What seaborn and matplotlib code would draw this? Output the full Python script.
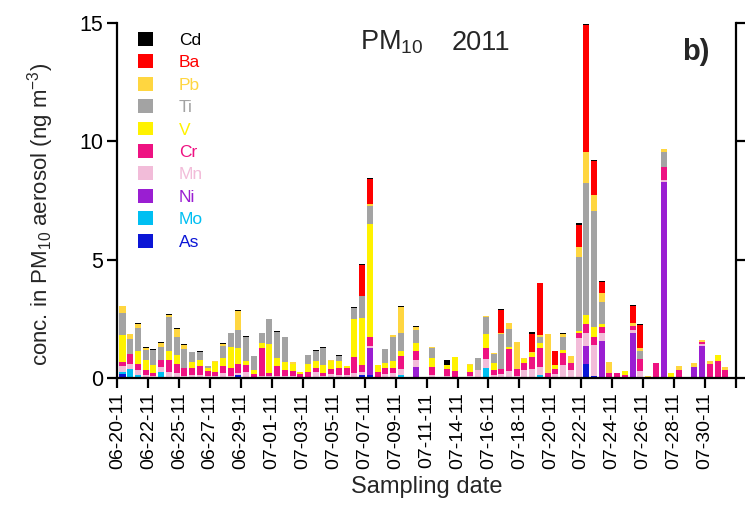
import numpy as np
import pandas as pd
import matplotlib
matplotlib.use("Agg")
import matplotlib.pyplot as plt
import seaborn as sns
from matplotlib.patches import Patch

# Trace-element concentrations per PM10 sample (ng m^-3), stacked bottom -> top
As = [0.15, 0.04, 0, 0, 0, 0, 0, 0, 0, 0,
      0, 0, 0, 0, 0, 0.12, 0, 0, 0, 0,
      0, 0, 0, 0, 0, 0, 0, 0, 0, 0,
      0, 0.11, 0.11, 0, 0, 0, 0, 0, 0.03, 0,
      0, 0, 0, 0, 0, 0, 0, 0, 0, 0,
      0, 0, 0, 0, 0, 0, 0, 0, 0, 0,
      0.59, 0.10, 0, 0, 0, 0, 0, 0, 0, 0,
      0, 0, 0, 0, 0, 0, 0, 0, 0]
Mo = [0.10, 0.35, 0.12, 0, 0, 0.27, 0, 0, 0, 0,
      0, 0, 0, 0, 0, 0, 0, 0, 0, 0,
      0, 0, 0, 0, 0, 0, 0, 0, 0, 0,
      0, 0, 0, 0, 0, 0, 0.13, 0, 0, 0,
      0, 0, 0, 0, 0, 0, 0, 0.41, 0, 0,
      0, 0, 0, 0, 0.14, 0, 0, 0, 0, 0,
      0, 0, 0, 0, 0, 0, 0, 0, 0, 0,
      0, 0, 0, 0, 0, 0, 0, 0, 0]
Ni = [0, 0, 0, 0, 0, 0, 0, 0, 0, 0,
      0, 0, 0, 0, 0, 0, 0, 0, 0, 0,
      0, 0, 0, 0, 0, 0, 0, 0, 0, 0,
      0, 0, 1.14, 0, 0, 0, 0, 0, 0.45, 0,
      0, 0, 0, 0, 0, 0, 0, 0, 0, 0,
      0, 0, 0, 0, 0, 0, 0, 0, 0, 0,
      0.76, 0, 1.58, 0, 0, 0, 1.89, 0, 0, 0,
      8.30, 0, 0, 0, 0.48, 1.35, 0, 0, 0]
Mn = [0.24, 0.20, 0.20, 0.12, 0.08, 0.18, 0.27, 0.20, 0.10, 0.12,
      0.11, 0.07, 0.08, 0.20, 0.10, 0.10, 0.27, 0.05, 0.08, 0.08,
      0.10, 0.10, 0.08, 0, 0.06, 0.27, 0.10, 0.15, 0.13, 0.13,
      0.20, 0.15, 0.10, 0.05, 0.15, 0.20, 0.24, 0, 0.27, 0,
      0.13, 0, 0.08, 0, 0, 0.10, 0.33, 0.38, 0.13, 0.17,
      0.31, 0.10, 0.33, 0.39, 0.34, 0.03, 0.15, 0.55, 0.34, 1.68,
      0.56, 1.30, 0.31, 0.04, 0, 0, 0.14, 0.31, 0, 0.06,
      0.07, 0, 0, 0, 0, 0.07, 0, 0, 0]
Cr = [0.18, 0.42, 0.28, 0.20, 0.14, 0.31, 0.49, 0.38, 0.32, 0.30,
      0.39, 0.23, 0.18, 0.31, 0.34, 0.39, 0.28, 0.10, 1.17, 0.14,
      0.41, 0.24, 0.20, 0.16, 0.21, 0.17, 0.10, 0.22, 0.28, 0.31,
      0.70, 0.28, 0.39, 0.22, 0.28, 0.24, 0.54, 0, 0.38, 0,
      0.32, 0, 0.28, 0.30, 0, 0.15, 0, 0.46, 0.22, 0.19,
      0.90, 0.28, 0.30, 0.48, 0.79, 0.20, 0.22, 0.52, 0.30, 0.21,
      0.39, 0.32, 0.28, 0.18, 0.20, 0.13, 0.17, 0.51, 0, 0.56,
      0.54, 0, 0.34, 0, 0, 0.11, 0.59, 0.72, 0.34]
V = [1.13, 0, 0.56, 0.46, 0.32, 0, 0.39, 0.39, 0, 0.27,
     0.25, 0.14, 0.40, 0.35, 0.85, 0.66, 0.17, 0.20, 0.21, 1.20,
     0.32, 0.35, 0.33, 0.10, 0.32, 0.28, 0.36, 0.34, 0.31, 0.08,
     1.59, 2.00, 4.76, 0.27, 0.20, 0.28, 0.21, 0, 0.35, 0,
     0.38, 0, 0.18, 0.58, 0, 0.30, 0, 0.61, 0.28, 0,
     0.11, 0, 0.18, 0.20, 0.23, 0, 0.18, 0.11, 0, 0.10,
     0.35, 0.45, 0.11, 0, 0, 0.17, 0, 0, 0, 0,
     0, 0.22, 0, 0, 0, 0, 0, 0.25, 0]
Ti = [0.96, 0.63, 0.96, 0.41, 0.63, 0.54, 1.44, 0.77, 0.82, 0.42,
      0.34, 0.06, 0, 0.51, 0.60, 0.75, 1.03, 0.56, 0.45, 1.06,
      1.10, 1.06, 0, 0, 0.38, 0.42, 0.70, 0, 0.23, 0,
      0.47, 0.92, 0.77, 0, 0.58, 1.03, 0.77, 0, 0.54, 0,
      0.44, 0, 0, 0, 0, 0, 0.50, 0.70, 0.39, 1.50,
      0.73, 0, 0, 0, 0.25, 0, 0, 0.56, 0, 3.14,
      5.59, 4.90, 0.92, 0, 0, 0, 0, 0.30, 0, 0,
      0.66, 0, 0, 0, 0, 0, 0, 0, 0]
Pb = [0.28, 0.21, 0.17, 0.08, 0, 0.20, 0.07, 0.32, 0.17, 0,
      0, 0, 0.06, 0.06, 0, 0.80, 0, 0, 0, 0,
      0, 0, 0.07, 0, 0, 0, 0, 0.07, 0, 0,
      0, 0, 0.07, 0, 0, 0.05, 1.13, 0, 0.12, 0,
      0.06, 0, 0, 0, 0, 0.04, 0, 0.06, 0.05, 0.06,
      0.28, 1.14, 0.05, 0.04, 0.07, 1.63, 0, 0.10, 0.28, 0.39,
      1.31, 0.66, 0.38, 0.47, 0, 0, 0.11, 0.14, 0.08, 0,
      0.10, 0, 0.17, 0, 0.15, 0.07, 0.13, 0, 0.11]
Ba = [0, 0, 0, 0, 0, 0, 0, 0, 0, 0,
      0, 0, 0, 0, 0, 0, 0, 0, 0, 0,
      0, 0, 0, 0, 0, 0, 0, 0, 0, 0,
      0, 1.31, 1.08, 0, 0, 0, 0, 0, 0, 0,
      0, 0, 0, 0, 0, 0, 0, 0, 0, 0.96,
      0, 0, 0, 0.77, 2.18, 0, 0.59, 0, 0, 0.94,
      5.38, 1.44, 0.49, 0, 0, 0, 0.73, 0.99, 0, 0,
      0, 0, 0, 0, 0, 0, 0, 0, 0]
Cd = [0.02, 0.03, 0.05, 0.04, 0.04, 0.04, 0.04, 0.06, 0.04, 0,
      0.04, 0.02, 0, 0.03, 0, 0.04, 0.04, 0, 0, 0,
      0.04, 0, 0, 0, 0, 0.03, 0.04, 0, 0.02, 0,
      0.04, 0.03, 0.04, 0, 0, 0.03, 0.04, 0, 0.06, 0,
      0, 0, 0.21, 0, 0, 0, 0, 0, 0, 0.03,
      0, 0, 0, 0.06, 0, 0, 0, 0.05, 0, 0.07,
      0.04, 0.04, 0.04, 0, 0, 0, 0.04, 0.03, 0, 0,
      0, 0, 0, 0, 0, 0, 0, 0, 0]

# Every fourth sample is labelled on the date axis
date_labels = ["06-20-11", "06-22-11", "06-25-11", "06-27-11", "06-29-11",
               "07-01-11", "07-03-11", "07-05-11", "07-07-11", "07-09-11",
               "07-11-11", "07-14-11", "07-16-11", "07-18-11", "07-20-11",
               "07-22-11", "07-24-11", "07-26-11", "07-28-11", "07-30-11"]

elements = ["As", "Mo", "Ni", "Mn", "Cr", "V", "Ti", "Pb", "Ba", "Cd"]  # bottom -> top
series = {"As": As, "Mo": Mo, "Ni": Ni, "Mn": Mn, "Cr": Cr,
          "V": V, "Ti": Ti, "Pb": Pb, "Ba": Ba, "Cd": Cd}
colors = {"As": "#0b16d6", "Mo": "#00bff2", "Ni": "#9a1ed2", "Mn": "#f2bcd9",
          "Cr": "#ee1282", "V": "#fff200", "Ti": "#a3a3a3", "Pb": "#ffd640",
          "Ba": "#ff0000", "Cd": "#000000"}
legend_order = elements[::-1]  # top of stack first

n = len(As)
pos = np.arange(n) + 0.65
long_df = pd.DataFrame({
    "pos": np.tile(pos, len(elements)),
    "element": np.repeat(elements, n),
    "value": np.concatenate([series[e] for e in elements]),
})

sns.set_theme(style="ticks")
plt.rcParams["font.family"] = ["Liberation Sans", "DejaVu Sans"]
plt.rcParams["mathtext.fontset"] = "custom"
plt.rcParams["mathtext.rm"] = "Liberation Sans"
plt.rcParams["mathtext.it"] = "Liberation Sans:italic"
plt.rcParams["mathtext.bf"] = "Liberation Sans:bold"

fig = plt.figure(figsize=(7.45, 5.08), dpi=100)
ax = fig.add_axes([0.1577, 0.2559, 0.830, 0.6988])

# seaborn stacks the first hue level on top, so order hues top -> bottom
sns.histplot(data=long_df, x="pos", weights="value", hue="element",
             hue_order=legend_order, palette=colors, multiple="stack",
             discrete=True, shrink=0.78, alpha=1, linewidth=0,
             legend=False, ax=ax)

ax.set_xlim(0, 80)
ax.set_ylim(0, 15)
ax.set_yticks([0, 5, 10, 15])
ax.set_xticks(np.arange(0, 81, 4))
ax.set_xticklabels(date_labels + [""], rotation=90, fontsize=14)
ax.tick_params(axis="y", labelsize=15.5, direction="out", length=7, width=1.6,
               right=True, labelright=False, colors="black")
ax.tick_params(axis="x", direction="out", length=7, width=1.6, colors="black")
for side in ("left", "bottom", "right"):
    ax.spines[side].set_linewidth(1.6)
    ax.spines[side].set_color("black")
ax.spines["top"].set_visible(False)

ax.set_ylabel(r"conc. in PM$_{10}$ aerosol (ng m$^{-3}$)", fontsize=16)
ax.yaxis.set_label_coords(-0.1, 0.46)
ax.set_xlabel("Sampling date", fontsize=17, labelpad=5)

ax.text(0.392, 0.924, r"PM$_{10}$", transform=ax.transAxes,
        fontsize=19.5, ha="left", va="baseline")
ax.text(0.541, 0.924, "2011", transform=ax.transAxes,
        fontsize=19.5, ha="left", va="baseline")
ax.text(0.913, 0.896, "b)", transform=ax.transAxes, fontsize=21,
        fontweight="bold", ha="left", va="baseline")

handles = [Patch(facecolor=colors[e], edgecolor="none") for e in legend_order]
ax.legend(handles, legend_order, loc="upper left", bbox_to_anchor=(0.033, 0.975),
          frameon=False, fontsize=12.5, handlelength=0.86, handleheight=0.86,
          handletextpad=1.5, labelspacing=0.37, borderpad=0, borderaxespad=0,
          labelcolor=[colors[e] for e in legend_order])

fig.savefig("out.png", dpi=100)
